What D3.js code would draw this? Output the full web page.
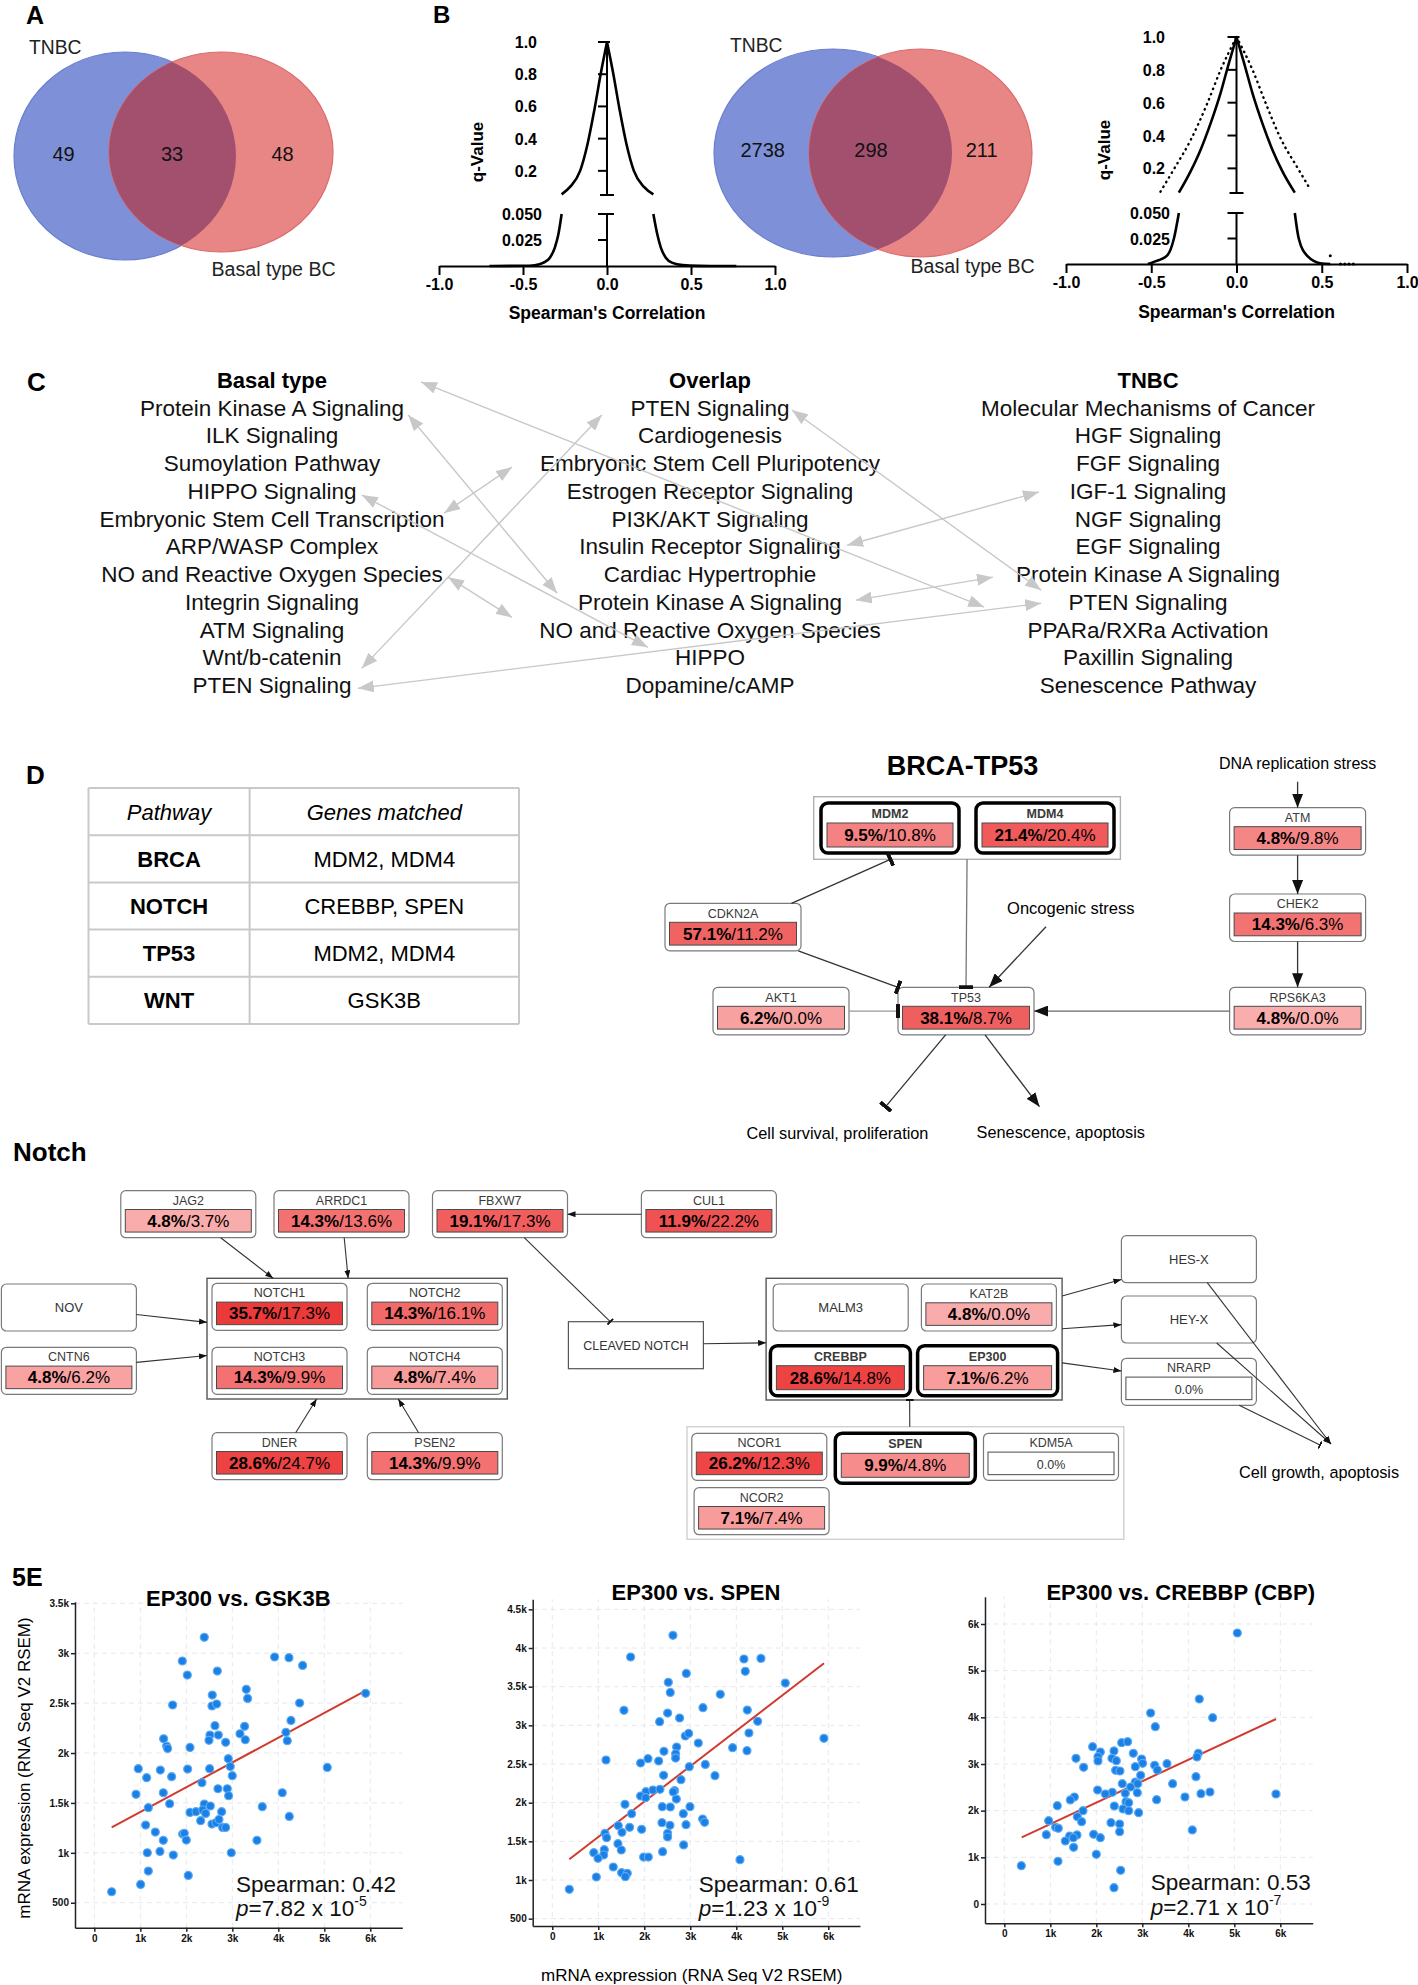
<!DOCTYPE html>
<html>
<head>
<meta charset="utf-8">
<title>Figure 5</title>
<script src="https://cdn.jsdelivr.net/npm/d3@7"></script>
<style>
body { margin: 0; background: #fff; }
svg { display: block; font-family: "Liberation Sans", Arial, Helvetica, sans-serif; }
</style>
</head>
<body>
<svg id="fig" width="1418" height="1985"></svg>
<script>
var FONT = '"Liberation Sans", Arial, Helvetica, sans-serif';

// ---------- data ----------
// A / B venn counts: [TNBC only, overlap, Basal only]
var vennSets = ['TNBC', 'Basal type BC'];
var vennA = [49, 33, 48];
var vennB = [2738, 298, 211];

// B: q-value vs spearman correlation
var rTicks = [-1, -0.5, 0, 0.5, 1];
var qTicksUpper = [0.2, 0.4, 0.6, 0.8, 1.0];
var qTicksLower = [0.025, 0.050];
var q1UpperL = [[-0.27,0.054],[-0.22,0.10],[-0.16,0.20],[-0.115,0.37],[-0.075,0.58],[-0.036,0.81],[0,1]];
var q1UpperR = [[0,1],[0.036,0.81],[0.075,0.58],[0.115,0.37],[0.16,0.20],[0.22,0.10],[0.276,0.054]];
var q1LowerL = [[-0.70,0],[-0.50,0.0002],[-0.43,0.0008],[-0.38,0.003],[-0.34,0.008],[-0.31,0.018],[-0.29,0.03],[-0.27,0.05]];
var q1LowerR = [[0.276,0.05],[0.30,0.03],[0.32,0.018],[0.35,0.008],[0.39,0.003],[0.45,0.0008],[0.55,0.0001],[0.62,0],[0.77,0]];
var q2UpperL = [[-0.338,0.052],[-0.27,0.18],[-0.211,0.312],[-0.152,0.474],[-0.094,0.657],[-0.045,0.84],[0,1]];
var q2UpperR = [[0,1],[0.045,0.84],[0.094,0.657],[0.152,0.474],[0.211,0.312],[0.27,0.18],[0.342,0.052]];
var q2LowerL = [[-0.52,0],[-0.485,0.002],[-0.406,0.0085],[-0.367,0.025],[-0.338,0.05]];
var q2LowerR = [[0.342,0.05],[0.365,0.025],[0.415,0.008],[0.50,0.0005],[0.55,0]];
var q2DotUpperL = [[-0.446,0.058],[-0.37,0.19],[-0.27,0.37],[-0.172,0.594],[-0.094,0.797],[0,1]];
var q2DotUpperR = [[0,1],[0.094,0.80],[0.17,0.60],[0.26,0.38],[0.36,0.20],[0.434,0.07]];
var q2DotLower = [[0.55,0.008],[0.61,0],[0.635,0],[0.66,0],[0.685,0]];

// C: pathway lists
var pathwayHeaders = ['Basal type', 'Overlap', 'TNBC'];
var basalPathways = ['Protein Kinase A Signaling','ILK Signaling','Sumoylation Pathway','HIPPO Signaling','Embryonic Stem Cell Transcription','ARP/WASP Complex','NO and Reactive Oxygen Species','Integrin Signaling','ATM Signaling','Wnt/b-catenin','PTEN Signaling'];
var overlapPathways = ['PTEN Signaling','Cardiogenesis','Embryonic Stem Cell Pluripotency','Estrogen Receptor Signaling','PI3K/AKT Signaling','Insulin Receptor Signaling','Cardiac Hypertrophie','Protein Kinase A Signaling','NO and Reactive Oxygen Species','HIPPO','Dopamine/cAMP'];
var tnbcPathways = ['Molecular Mechanisms of Cancer','HGF Signaling','FGF Signaling','IGF-1 Signaling','NGF Signaling','EGF Signaling','Protein Kinase A Signaling','PTEN Signaling','PPARa/RXRa Activation','Paxillin Signaling','Senescence Pathway'];
// links in (column, row) units, row -1 = header
var pathwayLinks = [
  [0.340,-0.93, 1.626,7.19],
  [0.311,0.26, 0.651,6.69],
  [0.548,2.14, 0.393,3.80],
  [0.753,0.26, 0.205,9.40],
  [0.205,3.15, 0.858,8.64],
  [0.402,6.11, 0.548,7.56],
  [0.196,10.12, 1.756,7.05],
  [1.187,0.08, 1.756,6.58],
  [1.751,3.04, 1.313,4.96],
  [1.646,6.11, 1.333,6.94]
];

// D: table
var tableHead = ['Pathway', 'Genes matched'];
var tablePathways = ['BRCA', 'NOTCH', 'TP53', 'WNT'];
var tableGenes = ['MDM2, MDM4', 'CREBBP, SPEN', 'MDM2, MDM4', 'GSK3B'];

// D: BRCA-TP53 alteration frequencies
var brcaGenes = ['MDM2','MDM4','CDKN2A','AKT1','TP53','ATM','CHEK2','RPS6KA3'];
var brcaPctA = [9.5, 21.4, 57.1, 6.2, 38.1, 4.8, 14.3, 4.8];
var brcaPctB = [10.8, 20.4, 11.2, 0.0, 8.7, 9.8, 6.3, 0.0];
var brcaMatched = ['MDM2', 'MDM4'];

// Notch alteration frequencies
var notchGenes = ['JAG2','ARRDC1','FBXW7','CUL1','NOV','CNTN6','NOTCH1','NOTCH2','NOTCH3','NOTCH4','DNER','PSEN2','CLEAVED NOTCH','MALM3','KAT2B','CREBBP','EP300','HES-X','HEY-X','NRARP','NCOR1','SPEN','KDM5A','NCOR2'];
var notchPctA = [4.8,14.3,19.1,11.9,null,4.8,35.7,14.3,14.3,4.8,28.6,14.3,null,null,4.8,28.6,7.1,null,null,0.0,26.2,9.9,0.0,7.1];
var notchPctB = [3.7,13.6,17.3,22.2,null,6.2,17.3,16.1,9.9,7.4,24.7,9.9,null,null,0.0,14.8,6.2,null,null,null,12.3,4.8,null,7.4];
var notchMatched = ['CREBBP', 'EP300', 'SPEN'];

// E: scatter data [EP300, partner] RSEM
var gsk3b = [[2391,3159],[1913,2922],[2022,2781],[2674,2821],[3920,2962],[4232,2955],[4529,2878],[3304,2638],[3333,2547],[2565,2581],[2558,2471],[2659,2491],[1703,2481],[4463,2501],[5898,2598],[4275,2327],[2623,2274],[3268,2267],[2514,2180],[2696,2180],[2493,2127],[3167,2193],[3282,2133],[2855,2107],[4166,2207],[4195,2123],[1507,2143],[1572,2070],[1594,2046],[2080,2056],[2913,1943],[956,1843],[1435,1829],[2029,1839],[2507,1843],[2956,1866],[5065,1856],[3000,1773],[1138,1753],[1681,1763],[2340,1702],[2688,1642],[2891,1642],[2920,1572],[4087,1602],[906,1586],[1500,1602],[1638,1492],[2391,1489],[2522,1469],[1174,1452],[2080,1405],[2210,1412],[2355,1429],[2420,1395],[2768,1412],[3652,1462],[4239,1365],[2312,1322],[2558,1288],[2645,1302],[2710,1335],[2790,1255],[2855,1255],[1116,1278],[1326,1208],[1920,1188],[1956,1195],[2000,1128],[1500,1125],[3536,1125],[1152,1001],[1427,1014],[1717,978],[2978,1001],[1174,817],[2043,774],[1007,684],[377,610]];
var spen = [[2623,4164],[1703,3884],[4166,3858],[4536,3866],[4195,3698],[2913,3672],[5065,3547],[2522,3556],[2565,3426],[3652,3401],[1558,3194],[3275,3228],[4239,3198],[2507,3159],[2768,3095],[2333,3047],[4464,3052],[2891,2862],[2964,2896],[4275,2901],[5905,2832],[3174,2771],[2703,2720],[3920,2711],[2427,2664],[2681,2633],[2681,2577],[4232,2672],[1167,2552],[2080,2569],[1920,2513],[2312,2539],[2978,2465],[3326,2495],[2420,2353],[3536,2349],[2797,2297],[2036,2142],[2188,2164],[2340,2172],[2659,2155],[2630,2138],[1920,2086],[2029,2065],[2696,2047],[1580,1978],[2391,1948],[2565,1944],[2993,1948],[1724,1858],[2848,1858],[3268,1789],[3311,1746],[2384,1741],[2558,1707],[2906,1715],[1435,1703],[1514,1616],[1681,1681],[1942,1655],[1145,1603],[1181,1547],[2507,1603],[2507,1556],[1427,1470],[2855,1453],[1130,1392],[1500,1388],[902,1353],[1116,1323],[993,1280],[1985,1297],[2087,1297],[2398,1366],[4080,1263],[1326,1168],[1507,1095],[1630,1086],[1587,1043],[957,1039],[370,879]];
var crebbp = [[5065,5807],[4239,4393],[4529,3993],[3181,4093],[3282,3800],[2551,3457],[2681,3479],[1920,3371],[2087,3257],[2384,3279],[2804,3229],[1558,3121],[2036,3157],[2036,3064],[2340,3121],[2435,3072],[2985,3107],[3007,3014],[3536,3007],[1724,2929],[2420,2864],[2514,2850],[2848,2943],[3268,2971],[3326,2871],[4217,3229],[4188,3150],[2964,2757],[4166,2729],[3659,2579],[2565,2579],[2848,2614],[2746,2507],[2898,2579],[2029,2443],[2348,2393],[2196,2357],[2630,2371],[2891,2386],[3927,2293],[4275,2364],[4471,2400],[5905,2357],[3311,2236],[1522,2293],[1435,2229],[2645,2193],[2703,2171],[1152,2107],[2391,2100],[2580,2036],[2703,2000],[2920,1957],[1710,2000],[1587,1871],[1681,1764],[964,1786],[2319,1743],[2507,1714],[1116,1643],[1174,1622],[2507,1550],[4087,1586],[913,1486],[1942,1493],[2087,1421],[1420,1457],[1580,1479],[1500,1421],[1326,1350],[1507,1214],[2000,1064],[1167,914],[370,821],[2529,721],[2384,350]];
var regGsk3b = [[378,1255],[5900,2624]];
var regSpen = [[370,1268],[5907,3802]];
var regCrebbp = [[378,1429],[5907,3964]];
var xTicksE = [0,1000,2000,3000,4000,5000,6000];

// ---------- setup ----------
var svg = d3.select('#fig');
svg.append('rect').attr('width', 1418).attr('height', 1985).attr('fill', '#fff');
var defs = svg.append('defs');

function addMarker(id, w, h, path, fill, orient, refX) {
  defs.append('marker').attr('id', id)
    .attr('viewBox', '0 0 ' + w + ' ' + h)
    .attr('refX', refX == null ? w : refX).attr('refY', h / 2)
    .attr('markerWidth', w).attr('markerHeight', h)
    .attr('markerUnits', 'userSpaceOnUse')
    .attr('orient', orient || 'auto')
    .append('path').attr('d', path).attr('fill', fill);
}
addMarker('arrC', 16, 12, 'M0,0L16,6L0,12Z', '#c8c8c8', 'auto-start-reverse');
addMarker('arrB', 14, 11, 'M0,0L14,5.5L0,11Z', '#111');
addMarker('barB', 4, 14, 'M0,0H4V14H0Z', '#111', 'auto', 2);
addMarker('arrN', 8, 6, 'M0,0L8,3L0,6Z', '#111');
addMarker('barN', 2, 8, 'M0,0H2V8H0Z', '#111', 'auto', 1);

function label(txt, x, y, size, opt) {
  opt = opt || {};
  return svg.append('text').attr('x', x).attr('y', y)
    .attr('font-size', size)
    .attr('font-weight', opt.bold ? 'bold' : null)
    .attr('font-style', opt.italic ? 'italic' : null)
    .attr('text-anchor', opt.anchor || 'start')
    .attr('fill', opt.fill || '#000')
    .text(txt);
}

// panel letters
label('A', 26, 24, 25, {bold: true});
label('B', 433, 23, 24, {bold: true});
label('C', 27, 391, 26, {bold: true});
label('D', 26, 784, 26, {bold: true});
label('Notch', 13, 1161, 26, {bold: true});
label('5E', 12, 1586, 25, {bold: true});

// ---------- venns ----------
function venn(id, counts, c) {
  var g = svg.append('g');
  g.append('clipPath').attr('id', id).append('ellipse')
    .attr('cx', c.b[0]).attr('cy', c.b[1]).attr('rx', c.b[2]).attr('ry', c.b[3]);
  g.append('ellipse').attr('cx', c.b[0]).attr('cy', c.b[1]).attr('rx', c.b[2]).attr('ry', c.b[3])
    .attr('fill', '#7e91d8').attr('stroke', '#6b7fce').attr('stroke-width', 1.2);
  g.append('ellipse').attr('cx', c.r[0]).attr('cy', c.r[1]).attr('rx', c.r[2]).attr('ry', c.r[3])
    .attr('fill', '#e88585').attr('stroke', '#dd6b6b').attr('stroke-width', 1.2);
  g.append('ellipse').attr('cx', c.r[0]).attr('cy', c.r[1]).attr('rx', c.r[2]).attr('ry', c.r[3])
    .attr('fill', '#a3506f').attr('clip-path', 'url(#' + id + ')');
  counts.forEach(function(v, i) {
    label(v, c.nx[i], c.ny, 20, {anchor: 'middle', fill: '#111'});
  });
  label(vennSets[0], c.t1[0], c.t1[1], 19.3, {fill: '#222'});
  label(vennSets[1], c.t2[0], c.t2[1], 19.6, {fill: '#222'});
}
venn('clipA', vennA, {b: [125, 156, 111, 104], r: [221, 152, 112, 100],
  nx: [63.5, 172, 282.5], ny: 161, t1: [29, 53.5], t2: [211.5, 275.5]});
venn('clipB', vennB, {b: [833, 153, 119, 104], r: [920.5, 153, 111.5, 104],
  nx: [762.7, 871, 981.7], ny: 157.3, t1: [730, 51.7], t2: [910.5, 272.5]});

// ---------- q-value plots ----------
function qPlot(c) {
  var g = svg.append('g');
  var x = d3.scaleLinear().domain([-1, 1]).range(c.xr);
  var yU = d3.scaleLinear().domain([0.05, 1]).range(c.yu);
  var yL = d3.scaleLinear().domain([0, 0.05]).range(c.yl);
  var x0 = x(0);

  var ax = g.append('g').attr('transform', 'translate(0,' + c.yl[0] + ')')
    .call(d3.axisBottom(x).tickValues(rTicks).tickSize(9).tickSizeOuter(0).tickPadding(4)
      .tickFormat(function(d) { return d.toFixed(1); }));
  ax.attr('font-family', FONT).attr('font-size', 16).attr('font-weight', 'bold');
  ax.selectAll('path,line').attr('stroke', '#000').attr('stroke-width', 2);
  ax.selectAll('text').attr('fill', '#000');

  var axisStyle = function(s) { return s.attr('stroke', '#000').attr('stroke-width', 2); };
  g.append('line').attr('x1', x0).attr('x2', x0).attr('y1', yU(1)).attr('y2', yU(0.05)).call(axisStyle);
  g.append('line').attr('x1', x0).attr('x2', x0).attr('y1', yL(0.05)).attr('y2', yL(0)).call(axisStyle);
  [yU(0.05), yL(0.05)].forEach(function(yy) {
    g.append('line').attr('x1', x0 - 7).attr('x2', x0 + 7).attr('y1', yy).attr('y2', yy).call(axisStyle);
  });
  qTicksUpper.forEach(function(t) {
    g.append('line').attr('x1', x0 - 9).attr('x2', t === 1 ? x0 + 3 : x0).attr('y1', yU(t)).attr('y2', yU(t)).call(axisStyle);
    g.append('text').attr('x', c.labX).attr('y', yU(t) + 6).attr('text-anchor', 'end')
      .attr('font-size', 16).attr('font-weight', 'bold').text(t.toFixed(1));
  });
  qTicksLower.forEach(function(t) {
    g.append('line').attr('x1', x0 - 9).attr('x2', x0).attr('y1', yL(t)).attr('y2', yL(t)).call(axisStyle);
    g.append('text').attr('x', c.labXL).attr('y', yL(t) + 6).attr('text-anchor', 'end')
      .attr('font-size', 16).attr('font-weight', 'bold').text(t.toFixed(3));
  });
  g.append('text').attr('transform', 'translate(' + (c.qx + 6) + ',' + c.qy + ') rotate(-90)')
    .attr('text-anchor', 'middle').attr('font-size', 17).attr('font-weight', 'bold').text('q-Value');
  g.append('text').attr('x', x0).attr('y', c.ty).attr('text-anchor', 'middle')
    .attr('font-size', 17.5).attr('font-weight', 'bold').text("Spearman's Correlation");

  var lineU = d3.line().x(function(d) { return x(d[0]); }).y(function(d) { return yU(d[1]); }).curve(d3.curveMonotoneX);
  var lineL = d3.line().x(function(d) { return x(d[0]); }).y(function(d) { return yL(d[1]); }).curve(d3.curveMonotoneX);
  c.upper.forEach(function(pts) {
    g.append('path').attr('d', lineU(pts)).attr('fill', 'none').attr('stroke', '#000').attr('stroke-width', 2.6);
  });
  c.lower.forEach(function(pts) {
    g.append('path').attr('d', lineL(pts)).attr('fill', 'none').attr('stroke', '#000').attr('stroke-width', 2.6);
  });
  (c.dotted || []).forEach(function(pts) {
    g.append('path').attr('d', lineU(pts)).attr('fill', 'none').attr('stroke', '#000')
      .attr('stroke-width', 2.4).attr('stroke-dasharray', '0.5,5').attr('stroke-linecap', 'round');
  });
  (c.dots || []).forEach(function(d) {
    g.append('circle').attr('cx', x(d[0])).attr('cy', yL(d[1])).attr('r', 1.5).attr('fill', '#000');
  });
}
qPlot({xr: [439, 775], yu: [195, 42], yl: [266, 214], labX: 537, labXL: 542, qx: 477, qy: 152, ty: 319,
  upper: [q1UpperL, q1UpperR], lower: [q1LowerL, q1LowerR]});
qPlot({xr: [1066, 1407], yu: [193, 37], yl: [264, 213], labX: 1165, labXL: 1170, qx: 1104, qy: 150, ty: 318,
  upper: [q2UpperL, q2UpperR], lower: [q2LowerL, q2LowerR], dotted: [q2DotUpperL, q2DotUpperR], dots: q2DotLower});

// ---------- C: pathway columns ----------
var xC = d3.scaleLinear().domain([0, 2]).range([272, 1148]);
var yC = d3.scaleLinear().domain([-1, 10]).range([380, 685]);
[basalPathways, overlapPathways, tnbcPathways].forEach(function(list, ci) {
  label(pathwayHeaders[ci], xC(ci), yC(-1) + 8, 22, {bold: true, anchor: 'middle'});
  list.forEach(function(name, ri) {
    label(name, xC(ci), yC(ri) + 8, 22.5, {anchor: 'middle', fill: '#111'});
  });
});
svg.append('g').selectAll('line').data(pathwayLinks).join('line')
  .attr('x1', function(d) { return xC(d[0]); }).attr('y1', function(d) { return yC(d[1]); })
  .attr('x2', function(d) { return xC(d[2]); }).attr('y2', function(d) { return yC(d[3]); })
  .attr('stroke', '#c8c8c8').attr('stroke-width', 1.4)
  .attr('marker-start', 'url(#arrC)').attr('marker-end', 'url(#arrC)');

// ---------- D: table ----------
var tx = [88.5, 249.6, 519];
var ty = d3.scaleBand().domain(d3.range(5)).range([788, 1024]);
var tg = svg.append('g');
d3.range(6).forEach(function(i) {
  var yy = 788 + i * ty.bandwidth();
  tg.append('line').attr('x1', tx[0]).attr('x2', tx[2]).attr('y1', yy).attr('y2', yy)
    .attr('stroke', '#c9c9c9').attr('stroke-width', 2);
});
tx.forEach(function(xx) {
  tg.append('line').attr('x1', xx).attr('x2', xx).attr('y1', 788).attr('y2', 1024)
    .attr('stroke', '#c9c9c9').attr('stroke-width', 2);
});
var colC = [(tx[0] + tx[1]) / 2, (tx[1] + tx[2]) / 2];
label(tableHead[0], colC[0], ty(0) + ty.bandwidth() / 2 + 8, 22, {italic: true, anchor: 'middle'});
label(tableHead[1], colC[1], ty(0) + ty.bandwidth() / 2 + 8, 22, {italic: true, anchor: 'middle'});
tablePathways.forEach(function(p, i) {
  label(p, colC[0], ty(i + 1) + ty.bandwidth() / 2 + 8, 22, {bold: true, anchor: 'middle'});
  label(tableGenes[i], colC[1], ty(i + 1) + ty.bandwidth() / 2 + 8, 22, {anchor: 'middle'});
});

// ---------- pathway node diagrams ----------
var boxes = {};
function drawNodes(genes, pa, pb, matched, layout, color, dim, square) {
  var g = svg.append('g');
  genes.forEach(function(name, i) {
    var p = layout[name];
    var thick = matched.indexOf(name) >= 0;
    var w = thick ? dim.tw : dim.w, h = thick ? dim.th : dim.h;
    boxes[name] = {x: p[0], y: p[1], w: w, h: h};
    var isSq = square.indexOf(name) >= 0;
    g.append('rect').attr('x', p[0]).attr('y', p[1]).attr('width', w).attr('height', h)
      .attr('rx', isSq ? 0 : (thick ? 7 : 5))
      .attr('fill', '#fff').attr('stroke', thick ? '#000' : (isSq ? '#555' : '#7a7a7a'))
      .attr('stroke-width', thick ? 3.5 : 1.2);
    var cx = p[0] + w / 2;
    if (pa[i] == null) {
      g.append('text').attr('x', cx).attr('y', p[1] + h / 2 + 4.5).attr('text-anchor', 'middle')
        .attr('font-size', isSq ? 12.5 : 13).attr('fill', '#333').text(name);
      return;
    }
    g.append('text').attr('x', cx).attr('y', p[1] + h * 0.3).attr('text-anchor', 'middle')
      .attr('font-size', thick ? 12.5 : 12.5).attr('font-weight', thick ? 'bold' : null)
      .attr('fill', '#3a3a3a').text(name);
    var inset = thick ? 6 : 4.5;
    var by = p[1] + h * 0.4, bh = h * 0.48;
    var v = Math.max(pa[i], pb[i] == null ? 0 : pb[i]);
    g.append('rect').attr('x', p[0] + inset).attr('y', by).attr('width', w - 2 * inset).attr('height', bh)
      .attr('fill', color(v)).attr('stroke', '#4a4a4a').attr('stroke-width', 1);
    var t = g.append('text').attr('x', cx).attr('y', by + bh / 2 + 6).attr('text-anchor', 'middle').attr('fill', '#000');
    if (pb[i] == null) {
      t.attr('font-size', 12.5).attr('fill', '#333').text(pa[i].toFixed(1) + '%');
    } else {
      t.attr('font-size', 17);
      t.append('tspan').attr('font-weight', 'bold').text(pa[i].toFixed(1) + '%');
      t.append('tspan').text('/' + pb[i].toFixed(1) + '%');
    }
  });
}
function groupBox(name, r, stroke) {
  boxes[name] = {x: r[0], y: r[1], w: r[2], h: r[3]};
  svg.append('rect').attr('x', r[0]).attr('y', r[1]).attr('width', r[2]).attr('height', r[3])
    .attr('fill', 'none').attr('stroke', stroke).attr('stroke-width', 1.4);
}
function anchor(name, fx, fy) {
  var b = boxes[name];
  return [b.x + fx * b.w, b.y + fy * b.h];
}
function drawEdges(edges, stroke, width) {
  var g = svg.append('g');
  edges.forEach(function(e) {
    var a = anchor(e[0], e[1], e[2]), b = anchor(e[3], e[4], e[5]);
    g.append('line').attr('x1', a[0]).attr('y1', a[1]).attr('x2', b[0]).attr('y2', b[1])
      .attr('stroke', e[7] || stroke).attr('stroke-width', width)
      .attr('marker-end', 'url(#' + e[6] + ')');
  });
}

// BRCA-TP53
label('BRCA-TP53', 962.6, 774.7, 27, {bold: true, anchor: 'middle'});
label('DNA replication stress', 1297.6, 768.5, 16, {anchor: 'middle'});
label('Oncogenic stress', 1070.8, 913.5, 16.5, {anchor: 'middle'});
label('Cell survival, proliferation', 837.5, 1139, 16.3, {anchor: 'middle'});
label('Senescence, apoptosis', 1060.8, 1137.5, 16.3, {anchor: 'middle'});

var brcaLayout = {MDM2: [821, 803], MDM4: [976, 803], CDKN2A: [665, 903.3], AKT1: [713, 987.3],
  TP53: [898, 987.3], ATM: [1229.6, 807.7], CHEK2: [1229.6, 894], RPS6KA3: [1229.6, 987.3]};
groupBox('grpMdm', [813.7, 796.7, 306.7, 62.6], '#b0b0b0');
var brcaColor = d3.scaleLinear().domain([0, 5, 10, 20, 60])
  .range(['#ffffff', '#f9aaaa', '#f58585', '#f05a5a', '#f06464']).clamp(true);
drawNodes(brcaGenes, brcaPctA, brcaPctB, brcaMatched, brcaLayout, brcaColor,
  {w: 136, h: 47.5, tw: 138, th: 50}, []);
[['dna', 1297.6, 781.7], ['onco', 1046, 926.7], ['survival', 885.7, 1106.7], ['senescence', 1039.5, 1106.7]]
  .forEach(function(p) { boxes[p[0]] = {x: p[1], y: p[2], w: 0, h: 0}; });
drawEdges([
  ['dna', 0, 0, 'ATM', 0.5, 0, 'arrB'],
  ['ATM', 0.5, 1, 'CHEK2', 0.5, 0, 'arrB'],
  ['CHEK2', 0.5, 1, 'RPS6KA3', 0.5, 0, 'arrB'],
  ['RPS6KA3', 0, 0.5, 'TP53', 1, 0.5, 'arrB', '#666'],
  ['onco', 0, 0, 'TP53', 0.67, 0, 'arrB'],
  ['grpMdm', 0.5, 1, 'TP53', 0.5, 0, 'barB', '#777'],
  ['CDKN2A', 0.93, 0, 'grpMdm', 0.25, 1, 'barB'],
  ['CDKN2A', 0.98, 1, 'TP53', 0, 0, 'barB'],
  ['AKT1', 1, 0.5, 'TP53', 0, 0.5, 'barB', '#999'],
  ['TP53', 0.35, 1, 'survival', 0, 0, 'barB'],
  ['TP53', 0.64, 1, 'senescence', 0, 0, 'arrB']
], '#333', 1.3);

// Notch
groupBox('grpNotch', [207, 1278.3, 300.3, 120.7], '#555');
groupBox('grpCbp', [766.1, 1278.3, 296, 121.7], '#555');
groupBox('grpBottom', [687, 1426.7, 436.8, 112.6], '#d0d0d0');
var notchLayout = {JAG2: [120.8, 1190.7], ARRDC1: [274, 1190.7], FBXW7: [432.5, 1190.7], CUL1: [641.4, 1190.7],
  NOV: [1.4, 1284], CNTN6: [1.4, 1347.3], NOTCH1: [212, 1283.3], NOTCH2: [367.3, 1283.3],
  NOTCH3: [212, 1347.3], NOTCH4: [367.3, 1347.3], DNER: [212, 1432.7], PSEN2: [367.3, 1432.7],
  'CLEAVED NOTCH': [568.4, 1321.7], MALM3: [773.2, 1284], KAT2B: [921.4, 1284],
  CREBBP: [770.4, 1345.7], EP300: [917.6, 1345.7], 'HES-X': [1121.4, 1235.7], 'HEY-X': [1121.4, 1296],
  NRARP: [1121.4, 1358.3], NCOR1: [691.8, 1433.3], SPEN: [835.3, 1433.3], KDM5A: [983.5, 1433.3],
  NCOR2: [694.1, 1487.7]};
var notchColor = d3.scaleLinear().domain([0, 5, 15, 25, 36])
  .range(['#ffffff', '#f9a9a9', '#f36d6d', '#ee4848', '#ea3a3a']).clamp(true);
drawNodes(notchGenes, notchPctA, notchPctB, notchMatched, notchLayout, notchColor,
  {w: 135, h: 47, tw: 140, th: 50}, ['CLEAVED NOTCH']);
label('Cell growth, apoptosis', 1319, 1477.5, 16.3, {anchor: 'middle'});
boxes.growth = {x: 1331, y: 1444, w: 0, h: 0};
boxes.growth2 = {x: 1320, y: 1445, w: 0, h: 0};
drawEdges([
  ['JAG2', 0.74, 1, 'grpNotch', 0.22, 0, 'arrN'],
  ['ARRDC1', 0.52, 1, 'grpNotch', 0.47, 0, 'arrN'],
  ['NOV', 1, 0.65, 'grpNotch', 0, 0.365, 'arrN'],
  ['CNTN6', 1, 0.32, 'grpNotch', 0, 0.64, 'arrN'],
  ['DNER', 0.62, 0, 'grpNotch', 0.365, 1, 'arrN'],
  ['PSEN2', 0.38, 0, 'grpNotch', 0.637, 1, 'arrN'],
  ['FBXW7', 0.68, 1, 'CLEAVED NOTCH', 0.31, 0, 'barN'],
  ['CUL1', 0, 0.5, 'FBXW7', 1, 0.5, 'arrN'],
  ['CLEAVED NOTCH', 1, 0.47, 'grpCbp', 0, 0.53, 'arrN'],
  ['grpCbp', 1, 0.145, 'HES-X', 0, 0.93, 'arrN'],
  ['grpCbp', 1, 0.415, 'HEY-X', 0, 0.61, 'arrN'],
  ['grpCbp', 1, 0.695, 'NRARP', 0, 0.27, 'arrN'],
  ['grpBottom', 0.51, 0, 'grpCbp', 0.485, 1, 'barN'],
  ['HES-X', 0.636, 1, 'growth', 0, 0, 'arrN'],
  ['HEY-X', 0.706, 1, 'growth', 0, 0, 'arrN'],
  ['NRARP', 0.872, 1, 'growth2', 0, 0, 'barN']
], '#333', 1.1);

// ---------- E: scatter plots ----------
function scatter(c) {
  var g = svg.append('g');
  var x = d3.scaleLinear().domain(c.xd).range([c.left, c.right]);
  var y = d3.scaleLinear().domain(c.yd).range([c.bottom, c.top]);
  g.selectAll('.gx').data(xTicksE).join('line')
    .attr('x1', function(d) { return x(d); }).attr('x2', function(d) { return x(d); })
    .attr('y1', c.bottom).attr('y2', c.top)
    .attr('stroke', '#e4e8ef').attr('stroke-dasharray', '5,4');
  g.selectAll('.gy').data(c.yTicks).join('line')
    .attr('y1', function(d) { return y(d); }).attr('y2', function(d) { return y(d); })
    .attr('x1', c.left).attr('x2', c.right)
    .attr('stroke', '#e4e8ef').attr('stroke-dasharray', '5,4');

  var fmt = d3.format('~s');
  var ax = g.append('g').attr('transform', 'translate(0,' + c.bottom + ')')
    .call(d3.axisBottom(x).tickValues(xTicksE).tickFormat(fmt).tickSize(4).tickSizeOuter(0).tickPadding(3));
  var ay = g.append('g').attr('transform', 'translate(' + c.left + ',0)')
    .call(d3.axisLeft(y).tickValues(c.yTicks).tickFormat(fmt).tickSize(4).tickSizeOuter(0).tickPadding(2));
  [ax, ay].forEach(function(a) {
    a.attr('font-family', FONT).attr('font-size', 10).attr('font-weight', 'bold');
    a.selectAll('path,line').attr('stroke', '#222').attr('stroke-width', 1.5);
    a.selectAll('text').attr('fill', '#111');
  });

  g.append('line')
    .attr('x1', x(c.reg[0][0])).attr('y1', y(c.reg[0][1]))
    .attr('x2', x(c.reg[1][0])).attr('y2', y(c.reg[1][1]))
    .attr('stroke', '#d13a2f').attr('stroke-width', 2);
  g.selectAll('circle').data(c.data).join('circle')
    .attr('cx', function(d) { return x(d[0]); }).attr('cy', function(d) { return y(d[1]); })
    .attr('r', 4).attr('fill', '#1a80e6').attr('stroke', '#5eaaf2').attr('stroke-width', 1.2);

  g.append('text').attr('x', c.titleX).attr('y', c.titleY).attr('text-anchor', 'middle')
    .attr('font-size', 22).attr('font-weight', 'bold').text(c.title);
  g.append('text').attr('x', c.annX).attr('y', c.annY).attr('font-size', 22.5).attr('fill', '#111')
    .text('Spearman: ' + c.rho);
  var p = g.append('text').attr('x', c.annX).attr('y', c.annY + 24.5).attr('font-size', 22.5).attr('fill', '#111');
  p.append('tspan').attr('font-style', 'italic').text('p');
  p.append('tspan').text('=' + c.p + ' x 10');
  p.append('tspan').attr('font-size', 14).attr('dy', -10).text(c.exp);
}
scatter({left: 75, right: 402.3, top: 1601.7, bottom: 1927.7, xd: [-420, 6696], yd: [250, 3516],
  yTicks: [500, 1000, 1500, 2000, 2500, 3000, 3500], data: gsk3b, reg: regGsk3b,
  title: 'EP300 vs. GSK3B', titleX: 238.3, titleY: 1606, annX: 236, annY: 1891.7,
  rho: '0.42', p: '7.82', exp: '-5'});
scatter({left: 532.7, right: 860, top: 1599.3, bottom: 1926, xd: [-426, 6689], yd: [405, 4630],
  yTicks: [500, 1000, 1500, 2000, 2500, 3000, 3500, 4000, 4500], data: spen, reg: regSpen,
  title: 'EP300 vs. SPEN', titleX: 696, titleY: 1600, annX: 698.7, annY: 1891.7,
  rho: '0.61', p: '1.23', exp: '-9'});
scatter({left: 985, right: 1312.7, top: 1596.7, bottom: 1923.3, xd: [-420, 6704], yd: [-414, 6585],
  yTicks: [0, 1000, 2000, 3000, 4000, 5000, 6000], data: crebbp, reg: regCrebbp,
  title: 'EP300 vs. CREBBP (CBP)', titleX: 1180.7, titleY: 1599.5, annX: 1150.7, annY: 1890,
  rho: '0.53', p: '2.71', exp: '-7'});

svg.append('text').attr('transform', 'translate(29.5,1768) rotate(-90)').attr('text-anchor', 'middle')
  .attr('font-size', 17).text('mRNA expression (RNA Seq V2 RSEM)');
label('mRNA expression (RNA Seq V2 RSEM)', 691.7, 1981, 17, {anchor: 'middle'});
</script>
</body>
</html>
